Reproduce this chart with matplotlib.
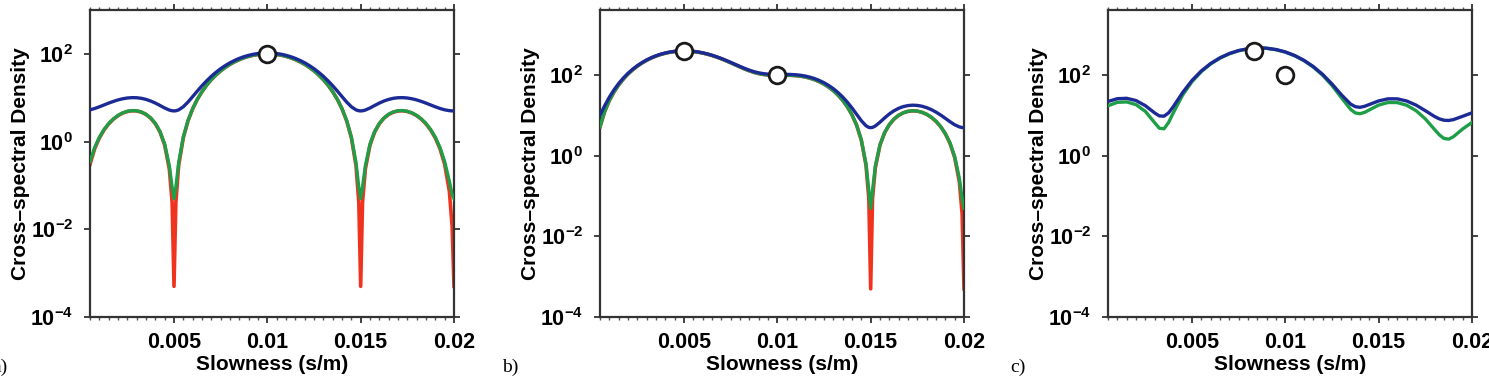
import numpy as np
import matplotlib
matplotlib.use("Agg")
import matplotlib.pyplot as plt
from matplotlib.ticker import FixedLocator, MultipleLocator, NullFormatter, NullLocator

plt.rcParams['font.family'] = ['Liberation Sans', 'DejaVu Sans']
plt.rcParams['font.weight'] = 'bold'
plt.rcParams['mathtext.fontset'] = 'custom'
plt.rcParams['mathtext.rm'] = 'Liberation Sans:bold'
plt.rcParams['mathtext.bf'] = 'Liberation Sans:bold'
plt.rcParams['mathtext.it'] = 'Liberation Sans:bold'

# ---------------- data ----------------
# panel a
slow_a = [0.0005, 0.00075, 0.001, 0.00125, 0.0015, 0.00175, 0.002, 0.00225, 0.0025, 0.00275,
          0.003, 0.00325, 0.0035, 0.00375, 0.004, 0.00425, 0.0045, 0.00475, 0.0049, 0.005,
          0.0051, 0.00525, 0.0055, 0.00575, 0.006, 0.00625, 0.0065, 0.00675, 0.007, 0.00725,
          0.0075, 0.00775, 0.008, 0.00825, 0.0085, 0.00875, 0.009, 0.00925, 0.0095, 0.00975,
          0.01, 0.01025, 0.0105, 0.01075, 0.011, 0.01125, 0.0115, 0.01175, 0.012, 0.01225,
          0.0125, 0.01275, 0.013, 0.01325, 0.0135, 0.01375, 0.014, 0.01425, 0.0145, 0.01475,
          0.0149, 0.015, 0.0151, 0.01525, 0.0155, 0.01575, 0.016, 0.01625, 0.0165, 0.01675,
          0.017, 0.01725, 0.0175, 0.01775, 0.018, 0.01825, 0.0185, 0.01875, 0.019, 0.01925,
          0.0195, 0.01975, 0.0199, 0.02]
red_a = [0.302, 0.684, 1.203, 1.831, 2.526, 3.234, 3.898, 4.455, 4.852, 5.040,
         4.990, 4.688, 4.150, 3.414, 2.549, 1.650, 0.832, 0.233, 0.041, 0.0005,
         0.041, 0.283, 1.227, 2.96, 5.59, 9.17, 13.75, 19.3, 25.8, 33.0,
         40.9, 49.1, 57.6, 65.9, 73.9, 81.2, 87.6, 92.9, 96.8, 99.2,
         100.0, 99.2, 96.8, 92.9, 87.6, 81.2, 73.9, 65.9, 57.6, 49.1,
         40.9, 33.0, 25.8, 19.3, 13.75, 9.17, 5.59, 2.96, 1.227, 0.283,
         0.041, 0.0005, 0.041, 0.233, 0.832, 1.650, 2.549, 3.414, 4.150, 4.688,
         4.990, 5.040, 4.852, 4.455, 3.898, 3.234, 2.526, 1.831, 1.203, 0.684,
         0.302, 0.074, 0.0116, 0.0005]
green_a = [0.35, 0.73, 1.25, 1.88, 2.58, 3.28, 3.95, 4.51, 4.90, 5.09,
           5.04, 4.74, 4.20, 3.46, 2.60, 1.70, 0.88, 0.28, 0.091, 0.050,
           0.091, 0.33, 1.28, 3.01, 5.64, 9.22, 13.8, 19.4, 25.9, 33.0,
           41.0, 49.2, 57.7, 66.0, 74.0, 81.3, 87.7, 93.0, 96.9, 99.3,
           100.0, 99.3, 96.9, 93.0, 87.7, 81.3, 74.0, 66.0, 57.7, 49.2,
           41.0, 33.0, 25.9, 19.4, 13.8, 9.22, 5.64, 3.01, 1.28, 0.33,
           0.091, 0.050, 0.091, 0.28, 0.88, 1.70, 2.60, 3.46, 4.20, 4.74,
           5.04, 5.09, 4.90, 4.51, 3.95, 3.28, 2.58, 1.88, 1.25, 0.73,
           0.35, 0.124, 0.062, 0.050]
blue_a = [5.30, 5.68, 6.20, 6.83, 7.53, 8.23, 8.90, 9.46, 9.85, 10.04,
          9.99, 9.69, 9.15, 8.41, 7.55, 6.65, 5.83, 5.23, 5.04, 5.00,
          5.04, 5.28, 6.23, 7.96, 10.6, 14.2, 18.8, 24.3, 30.8, 38.0,
          45.9, 54.1, 62.6, 70.9, 78.9, 86.2, 92.6, 97.9, 101.8, 104.2,
          105.0, 104.2, 101.8, 97.9, 92.6, 86.2, 78.9, 70.9, 62.6, 54.1,
          45.9, 38.0, 30.8, 24.3, 18.8, 14.2, 10.6, 7.96, 6.23, 5.28,
          5.04, 5.00, 5.04, 5.23, 5.83, 6.65, 7.55, 8.41, 9.15, 9.69,
          9.99, 10.04, 9.85, 9.46, 8.90, 8.23, 7.53, 6.83, 6.20, 5.68,
          5.30, 5.07, 5.01, 5.00]
src_slow_a = [0.01]
src_pow_a = [100.0]

# panel b
slow_b = [0.0005, 0.00075, 0.001, 0.00125, 0.0015, 0.00175, 0.002, 0.00225, 0.0025, 0.00275,
          0.003, 0.00325, 0.0035, 0.00375, 0.004, 0.00425, 0.0045, 0.00475, 0.005, 0.00525,
          0.0055, 0.00575, 0.006, 0.00625, 0.0065, 0.00675, 0.007, 0.00725, 0.0075, 0.00775,
          0.008, 0.00825, 0.0085, 0.00875, 0.009, 0.00925, 0.0095, 0.00975, 0.01, 0.01025,
          0.0105, 0.01075, 0.011, 0.01125, 0.0115, 0.01175, 0.012, 0.01225, 0.0125, 0.01275,
          0.013, 0.01325, 0.0135, 0.01375, 0.014, 0.01425, 0.0145, 0.01475, 0.0149, 0.015,
          0.0151, 0.01525, 0.0155, 0.01575, 0.016, 0.01625, 0.0165, 0.01675, 0.017, 0.01725,
          0.0175, 0.01775, 0.018, 0.01825, 0.0185, 0.01875, 0.019, 0.01925, 0.0195, 0.01975,
          0.0199, 0.02]
red_b = [5.21, 12.52, 23.56, 38.51, 57.53, 80.43, 107.1, 136.5, 168.5, 201.4,
         235.4, 268.3, 299.8, 328.2, 353.0, 373.3, 388.0, 397.0, 400.0, 397.1,
         388.4, 374.6, 356.0, 334.0, 309.4, 282.9, 256.2, 229.4, 204.5, 181.1,
         160.8, 143.1, 128.9, 117.9, 110.0, 104.7, 101.7, 100.3, 100.0, 100.1,
         100.1, 99.5, 97.8, 94.9, 90.5, 84.65, 77.56, 69.26, 60.31, 50.82,
         41.39, 32.24, 23.85, 16.49, 10.40, 5.70, 2.44, 0.579, 0.087, 0.0005,
         0.087, 0.505, 1.85, 3.76, 5.95, 8.15, 10.14, 11.70, 12.71, 13.10,
         12.85, 12.02, 10.71, 9.04, 7.18, 5.29, 3.53, 2.04, 0.91, 0.227,
         0.036, 0.0005]
green_b = [5.26, 12.57, 23.61, 38.56, 57.58, 80.48, 107.15, 136.55, 168.55, 201.45,
           235.45, 268.35, 299.85, 328.25, 353.05, 373.35, 388.05, 397.05, 400.05, 397.15,
           388.45, 374.65, 356.05, 334.05, 309.45, 282.95, 256.25, 229.45, 204.55, 181.15,
           160.85, 143.15, 128.95, 117.95, 110.05, 104.75, 101.75, 100.35, 100.05, 100.15,
           100.15, 99.55, 97.85, 94.95, 90.55, 84.7, 77.61, 69.31, 60.36, 50.87,
           41.44, 32.29, 23.9, 16.54, 10.45, 5.75, 2.49, 0.629, 0.137, 0.050,
           0.137, 0.555, 1.90, 3.81, 6.00, 8.20, 10.19, 11.75, 12.76, 13.15,
           12.90, 12.07, 10.76, 9.09, 7.23, 5.34, 3.58, 2.09, 0.96, 0.277,
           0.086, 0.050]
blue_b = [10.2, 17.5, 28.6, 43.5, 62.5, 85.4, 112.1, 141.5, 173.5, 206.4,
          240.4, 273.3, 304.8, 333.2, 358.0, 378.3, 393.0, 402.0, 405.0, 402.1,
          393.4, 379.6, 361.0, 339.0, 314.4, 287.9, 261.2, 234.4, 209.5, 186.1,
          165.8, 148.1, 133.9, 122.9, 115.0, 109.7, 106.7, 105.3, 105.0, 105.1,
          105.1, 104.5, 102.8, 99.9, 95.5, 89.65, 82.56, 74.26, 65.31, 55.82,
          46.39, 37.24, 28.85, 21.49, 15.40, 10.70, 7.44, 5.58, 5.09, 5.00,
          5.09, 5.51, 6.85, 8.76, 10.95, 13.15, 15.14, 16.70, 17.71, 18.10,
          17.85, 17.02, 15.71, 14.04, 12.18, 10.29, 8.53, 7.04, 5.91, 5.23,
          5.04, 5.00]
src_slow_b = [0.005, 0.01]
src_pow_b = [400.0, 100.0]

# panel c
slow_c = [0.0005, 0.001, 0.0015, 0.002, 0.0025, 0.003, 0.00325, 0.0035, 0.00375, 0.004,
          0.0045, 0.005, 0.0055, 0.006, 0.0065, 0.007, 0.0075, 0.008, 0.00825, 0.0085,
          0.00875, 0.009, 0.0095, 0.01, 0.0105, 0.011, 0.0115, 0.012, 0.0125, 0.013,
          0.0135, 0.01375, 0.014, 0.01425, 0.0145, 0.015, 0.0155, 0.016, 0.0165, 0.017,
          0.0175, 0.018, 0.01825, 0.0185, 0.01875, 0.019, 0.0195, 0.02]
green_c = [17.5, 21.3, 21.8, 18.7, 12.7, 6.64, 4.85, 4.69, 6.78, 11.75,
           32.4, 69.5, 123.3, 191.0, 266.5, 341.3, 406.0, 451.8, 465.6, 472.5,
           472.2, 465.0, 430.7, 374.6, 304.6, 229.8, 159.3, 100.0, 55.8, 27.9,
           14.2, 11.6, 11.1, 12.0, 13.8, 18.2, 21.1, 21.0, 18.05, 13.27,
           8.27, 4.48, 3.32, 2.70, 2.60, 2.97, 4.65, 6.75]
blue_c = [22.4, 26.2, 26.8, 23.6, 17.6, 11.6, 9.80, 9.64, 11.7, 16.7,
          37.3, 74.4, 128.3, 196.0, 271.5, 346.3, 411.0, 456.8, 470.6, 477.5,
          477.2, 470.0, 435.7, 379.6, 309.6, 234.8, 164.3, 105.0, 60.8, 32.9,
          19.2, 16.6, 16.0, 17.0, 18.8, 23.1, 26.0, 26.0, 23.0, 18.2,
          13.2, 9.43, 8.27, 7.65, 7.55, 7.92, 9.60, 11.7]
src_slow_c = [0.00833, 0.01]
src_pow_c = [400.0, 100.0]

x_ticks = [0.005, 0.01, 0.015, 0.02]
x_tick_labels = ["0.005", "0.01", "0.015", "0.02"]
y_ticks = [1e-4, 1e-2, 1e0, 1e2]
y_tick_labels = [r"$\mathbf{10^{-4}}$", r"$\mathbf{10^{-2}}$", r"$\mathbf{10^{0}}$", r"$\mathbf{10^{2}}$"]
panel_labels = ["a)", "b)", "c)"]
x_label = "Slowness (s/m)"
y_label = "Cross\u2013spectral Density"

RED = "#f0331f"
GREEN = "#1f9e48"
BLUE = "#1c2a96"

# ---------------- figure ----------------
fig = plt.figure(figsize=(14.89, 3.80), dpi=100)
W, H = 1489.0, 380.0
lefts = [90, 600, 1108]
ax_w = 364
top, bottom = 10, 317
ytops = [1e3, 10 ** 3.62, 10 ** 3.62]

panels = [
    (slow_a, red_a, green_a, blue_a, src_slow_a, src_pow_a),
    (slow_b, red_b, green_b, blue_b, src_slow_b, src_pow_b),
    (slow_c, None, green_c, blue_c, src_slow_c, src_pow_c),
]

for i, (xs, rs, gs, bs, sx, sp) in enumerate(panels):
    ax = fig.add_axes([lefts[i] / W, (H - bottom) / H, ax_w / W, (bottom - top) / H])
    if rs is not None:
        ax.plot(xs, rs, color=RED, lw=2.6, solid_joinstyle='round', zorder=2)
    ax.plot(xs, gs, color=GREEN, lw=2.4, zorder=3)
    ax.plot(xs, bs, color=BLUE, lw=2.4, zorder=4)
    ax.plot(sx, sp, 'o', ms=12, mfc='white', mec='#1a1a1a', mew=2.0, zorder=5, clip_on=False)
    ax.set_yscale('log')
    ax.set_xlim(0.0005, 0.02)
    ax.set_ylim(1e-4, ytops[i])
    ax.xaxis.set_major_locator(FixedLocator(x_ticks))
    ax.set_xticklabels(x_tick_labels)
    ax.xaxis.set_minor_locator(MultipleLocator(0.0005))
    ax.yaxis.set_major_locator(FixedLocator(y_ticks))
    ax.set_yticklabels(y_tick_labels)
    ax.yaxis.set_minor_locator(NullLocator())
    ax.tick_params(which='major', direction='out', length=4, width=1.3, color='#333333',
                   labelsize=15.5, top=True, right=True, pad=7)
    ax.tick_params(which='minor', direction='out', length=2.5, width=1.0, color='#555555',
                   top=True, bottom=True)
    ax.tick_params(axis='y', pad=8)
    for sp_ in ax.spines.values():
        sp_.set_linewidth(1.6)
        sp_.set_color('#333333')
    ax.set_xlabel(x_label, fontsize=15, fontweight='bold', labelpad=1)
    ax.set_ylabel(y_label, fontsize=15, fontweight='bold', labelpad=0)
    for lab in ax.get_xticklabels():
        lab.set_fontweight('bold')
    fig.text((lefts[i] - 98) / W, (H - 372) / H, panel_labels[i],
             family='Liberation Serif', fontweight='normal', fontsize=14, ha='left', va='baseline')

fig.savefig("out.png", dpi=100)
